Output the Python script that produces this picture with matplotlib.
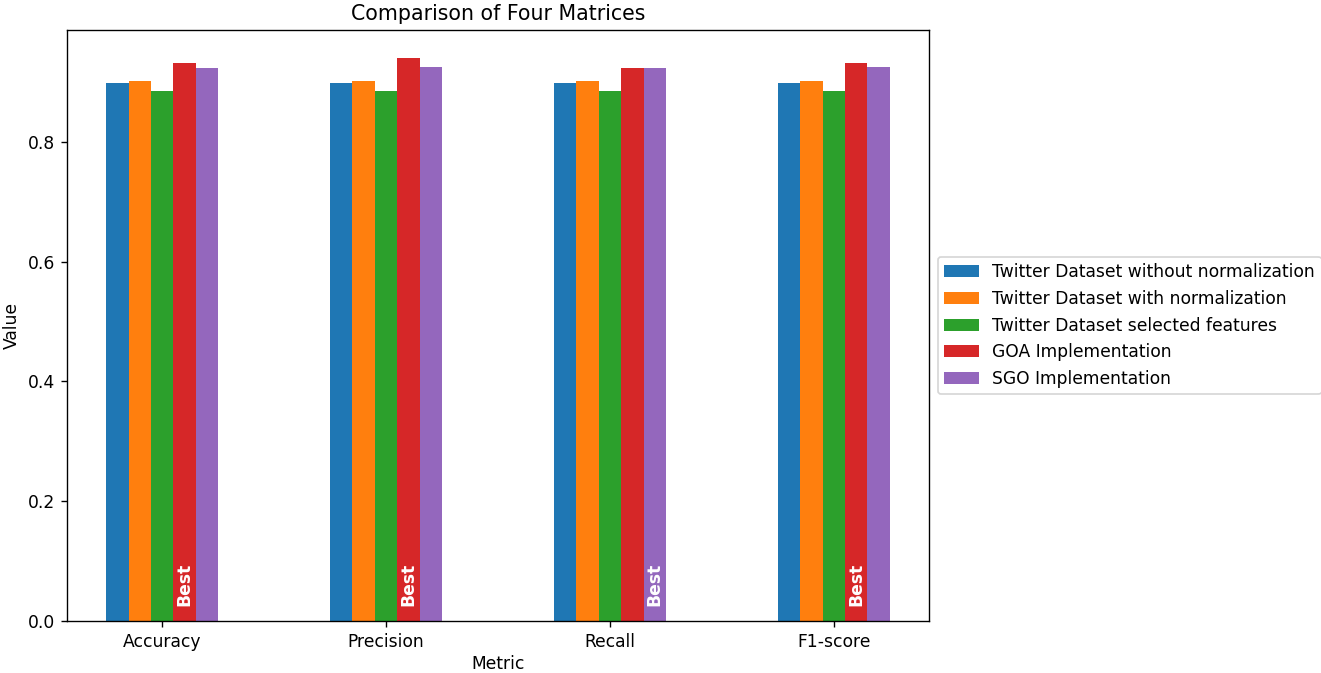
import matplotlib
matplotlib.use("Agg")
import matplotlib.pyplot as plt
import numpy as np

metrics = ["Accuracy", "Precision", "Recall", "F1-score"]
series_names = [
    "Twitter Dataset without normalization",
    "Twitter Dataset with normalization",
    "Twitter Dataset selected features",
    "GOA Implementation",
    "SGO Implementation",
]
no_norm = [0.899, 0.899, 0.899, 0.899]
with_norm = [0.901, 0.901, 0.901, 0.901]
selected = [0.885, 0.885, 0.885, 0.885]
goa = [0.932, 0.940, 0.923, 0.932]
sgo = [0.924, 0.926, 0.924, 0.925]

series = [no_norm, with_norm, selected, goa, sgo]
colors = ["#1f77b4", "#ff7f0e", "#2ca02c", "#d62728", "#9467bd"]

DPI = 123
W, H = 1321, 673
fig = plt.figure(figsize=(W / DPI, H / DPI), dpi=DPI)
ax = fig.add_axes([67 / W, 1 - 621 / H, (929 - 67) / W, (621 - 30) / H])

x = np.arange(len(metrics))
width = 0.1
n = len(series)
for i, (vals, name, c) in enumerate(zip(series, series_names, colors)):
    offs = (i - (n - 1) / 2) * width
    ax.bar(x + offs, vals, width, color=c, label=name)

# mark the best performer per metric
for j in range(len(metrics)):
    vals = [s[j] for s in series]
    best = int(np.argmax(vals))
    offs = (best - (n - 1) / 2) * width
    ax.text(x[j] + offs, 0.025, "Best", rotation=90, ha="center", va="bottom",
            color="white", fontweight="bold", fontsize=10)

ax.set_xticks(x)
ax.set_xticklabels(metrics, rotation=0)
ax.set_xlim(-0.425, 3.425)
ax.set_xlabel("Metric", labelpad=2.5)
ax.set_ylabel("Value")
ax.set_title("Comparison of Four Matrices")
ax.legend(loc="center left", bbox_to_anchor=(1.0, 0.5))

fig.savefig("out.png", dpi=DPI)
